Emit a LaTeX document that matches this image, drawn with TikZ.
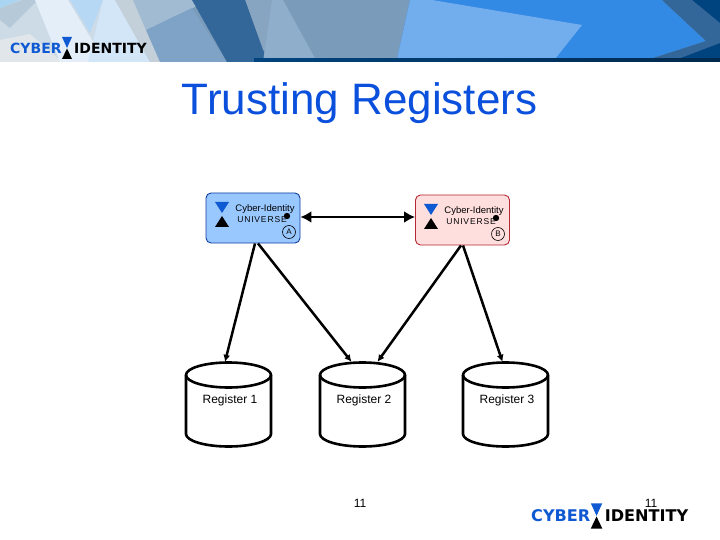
\documentclass[tikz,border=0pt]{standalone}
\usepackage{fontspec}
\setmainfont{Liberation Sans}
\newfontfamily\logofont{DejaVu Sans}
\newfontfamily\spacedfont[LetterSpace=10]{Liberation Sans}
\usetikzlibrary{arrows.meta,positioning}
\definecolor{ink}{HTML}{000000}
\definecolor{titleblue}{HTML}{0A50DC}
\definecolor{logoblue}{HTML}{0F5AD2}
\definecolor{paleblue}{HTML}{99C8FF}
\definecolor{edgeblue}{HTML}{103CA0}
\definecolor{palered}{HTML}{FFDEDE}
\definecolor{edgered}{HTML}{B42832}
\definecolor{barblue}{HTML}{336699}
\definecolor{midblue}{HTML}{7A9BBA}
\definecolor{skyblue}{HTML}{338AE5}
\definecolor{lightsky}{HTML}{72ADEE}
\definecolor{navy}{HTML}{00447F}
\definecolor{haze}{HTML}{CDDBE6}
\definecolor{mist}{HTML}{E0E6EA}
\definecolor{slate}{HTML}{B5C9D8}
\definecolor{ice}{HTML}{AAD5F2}
\definecolor{beam}{HTML}{E3EEF8}
\definecolor{glowblue}{HTML}{B7D8F5}
\definecolor{glow}{HTML}{D2E6F7}
\definecolor{ash}{HTML}{C3CFD9}
\definecolor{steel}{HTML}{A0BBD2}
\definecolor{dusk}{HTML}{7FA3C6}
\definecolor{fade}{HTML}{8FAECB}
\definecolor{fadeb}{HTML}{87A5C0}
\tikzset{
  univbox/.style={draw,rounded corners=5pt,line width=0.9pt,minimum width=94pt,minimum height=50pt},
  regnode/.style={minimum width=85pt,minimum height=76pt,font=\fontsize{12}{14}\selectfont,inner sep=0pt},
  regline/.style={draw=ink,line width=2.6pt,line join=round,line cap=round},
  pagenum/.style={font=\fontsize{12}{14}\selectfont},
  unitext/.style={font=\fontsize{9.5}{10}\selectfont},
  arr/.style={-{Latex[length=7pt,width=7pt]},line width=2.5pt,draw=ink},
  darr/.style={{Latex[length=11pt,width=12pt]}-{Latex[length=11pt,width=12pt]},line width=2.7pt,draw=ink},
  logotext/.style={font=\logofont\bfseries\fontsize{14}{14}\selectfont,anchor=west,inner sep=0pt},
}
\begin{document}
\begin{tikzpicture}[x=1pt,y=-1pt]
  \useasboundingbox (0,0) rectangle (720,540);
  % banner
  \fill[midblue] (0,0) rectangle (720,62);
  \fill[haze] (0,0) rectangle (165,62);
  \fill[mist] (0,40) -- (30,34) -- (62,62) -- (0,62) -- cycle;
  \fill[slate] (0,8) -- (22,0) -- (38,0) -- (10,28) -- (0,20) -- cycle;
  \fill[ice] (0,0) -- (20,0) -- (0,8) -- cycle;
  \fill[beam] (35,0) -- (68,0) -- (105,62) -- (60,62) -- cycle;
  \fill[glowblue] (70,0) -- (103,0) -- (90,33) -- cycle;
  \fill[glow] (103,0) -- (115,0) -- (150,62) -- (88,62) -- cycle;
  \fill[ash] (115,0) -- (133,0) -- (165,62) -- (150,62) -- cycle;
  \fill[steel] (133,0) -- (192,0) -- (197,6) -- (146,30) -- cycle;
  \fill[dusk] (146,30) -- (192,8) -- (227,62) -- (160,62) -- cycle;
  \fill[fadeb] (245,0) -- (272,0) -- (263,62) -- (270,62) -- (263,50) -- cycle;
  \fill[barblue] (192,0) -- (245,0) -- (263,50) -- (270,62) -- (227,62) -- cycle;
  \fill[fade] (272,0) -- (283,0) -- (317,62) -- (263,62) -- cycle;
  \fill[skyblue] (410,0) -- (662,0) -- (706,41) -- (650,59) -- (397,59) -- cycle;
  \fill[lightsky] (410,0) -- (432,0) -- (582,25) -- (555,59) -- (397,59) -- cycle;
  \fill[navy] (692,0) -- (720,0) -- (720,59) -- (678,59) -- (710,41) -- cycle;
  \fill[barblue] (662,0) -- (692,0) -- (720,23) -- (720,43) -- (678,59) -- (650,59) -- (706,41) -- cycle;
  \shade[left color=navy,right color=navy!60!black] (254,59) rectangle (720,62);
  % logos
  \foreach \n/\x/\y/\s in {top/10/42/1,bot/531/509/1.15}{
    \begin{scope}[shift={(\x,\y)},scale=\s,transform shape]
      \node[logotext,text=logoblue] (cyber\n) at (0,6) {CYBER};
      \node[logotext,text=ink] (ident\n) at (64,6) {IDENTITY};
      \fill[logoblue] (52,-5) -- (62,-5) -- (57,6) -- cycle;
      \fill[ink] (52,17) -- (62,17) -- (57,6.5) -- cycle;
    \end{scope}
  }
  \node[font=\fontsize{44}{48}\selectfont,text=titleblue,inner sep=0pt] (title) at (359.5,103) {Trusting Registers};
  % universes
  \node[univbox,draw=edgeblue,fill=paleblue] (univA) at (253,218) {};
  \node[univbox,draw=edgered,fill=palered] (univB) at (462.5,220) {};
  \foreach \n/\x/\y in {A/0/0,B/209/2}{
    \begin{scope}[shift={(\x,\y)}]
      \fill[logoblue] (215,202) -- (229,202) -- (222,213) -- cycle;
      \fill[ink] (215,227) -- (229,227) -- (222,216) -- cycle;
      \node[unitext] (cyb\n) at (265,209.5) {Cyber-Identity};
      \node[unitext,font=\spacedfont\fontsize{8.5}{9}\selectfont] (uni\n) at (262,219.5) {UNIVERSE};
      \fill[ink] (287,216) circle (3.2);
      \node[draw,circle,line width=0.6pt,inner sep=1pt,minimum size=13pt,font=\fontsize{8}{9}\selectfont] (mark\n) at (289,232) {\n};
    \end{scope}
  }
  % registers
  \foreach \n/\x in {1/228.5,2/362.5,3/505.5}{
    \draw[regline] (\x,375) ellipse [x radius=42.5pt,y radius=12.5pt];
    \draw[regline] (\x-42.5,375) -- (\x-42.5,434) arc [start angle=180,end angle=360,x radius=42.5pt,y radius=12.5pt] -- (\x+42.5,375);
    \node[regnode] (reg\n) at (\x+1.5,400) {Register \n};
  }
  \draw[darr] ([yshift=1pt]univA.east) -- ([yshift=3pt]univB.west);
  \draw[arr] ([xshift=2pt]univA.south) -- ([xshift=-5pt]reg1.north);
  \draw[arr] ([xshift=5pt]univA.south) -- ([xshift=-12.5pt]reg2.north);
  \draw[arr] ([xshift=-1.5pt]univB.south) -- ([xshift=13.5pt]reg2.north);
  \draw[arr] ([xshift=0.5pt]univB.south) -- ([xshift=-4.5pt]reg3.north);
  \node[pagenum] (pagea) at (360,503) {11};
  \node[pagenum] (pageb) at (651,503) {11};
\end{tikzpicture}
\end{document}
